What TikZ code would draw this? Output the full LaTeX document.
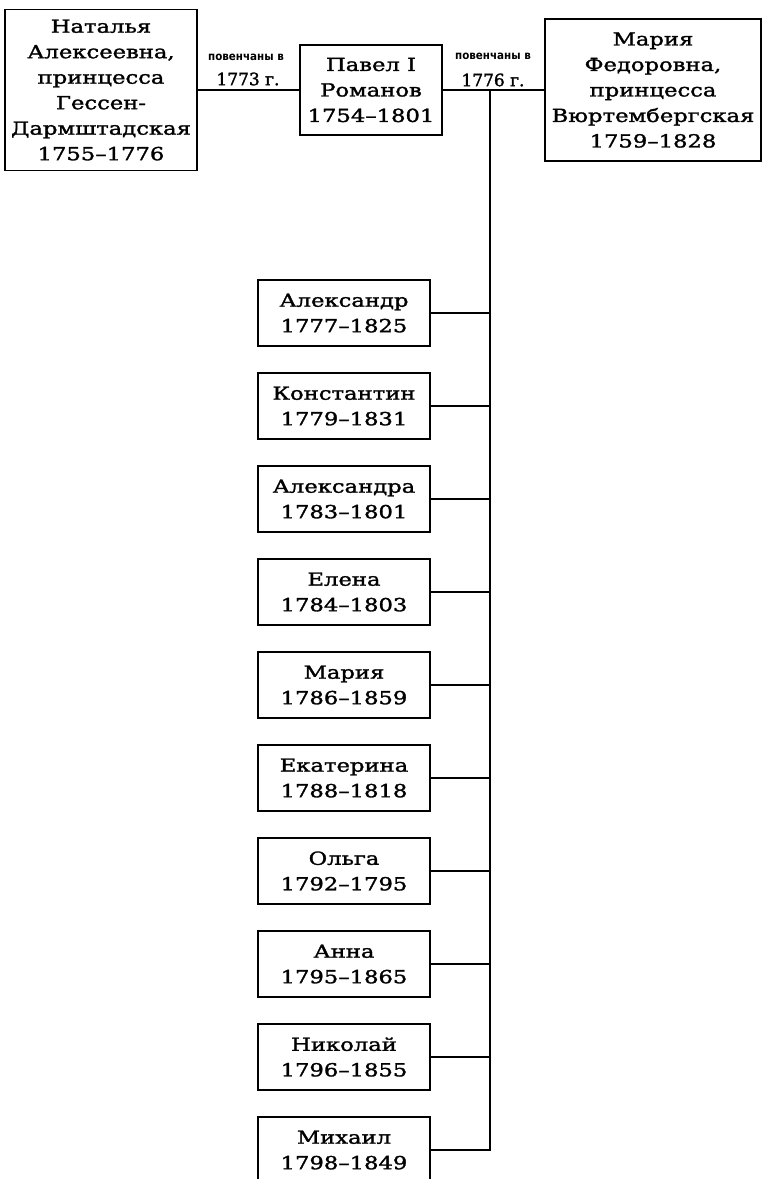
\documentclass[tikz,border=0pt]{standalone}
\usepackage{fontspec}
\setmainfont{DejaVu Serif}[FakeStretch=1.26, FakeBold=1.6]
\newfontfamily\yearfont{DejaVu Serif}[FakeBold=1.6]
\newfontfamily\notefont{DejaVu Sans}[FakeStretch=0.9]
\def\trunkx{490}
\def\kidx{344}

\begin{document}
\begin{tikzpicture}[x=1pt, y=-1pt,
    personbox/.style={draw, line width=1.6pt, align=center, inner sep=0pt,
      font=\fontsize{18}{25.5}\selectfont},
    kidbox/.style={personbox, minimum width=172pt, minimum height=66pt},
    link/.style={line width=1.4pt},
    wedlabel/.style={inner sep=0pt, font=\notefont\bfseries\fontsize{11.5}{13}\selectfont},
    yearlabel/.style={inner sep=0pt, font=\yearfont\fontsize{17}{20}\selectfont}]
  \useasboundingbox (0,0) rectangle (764,1179);

  \node[personbox, minimum width=192pt, minimum height=161pt] (natalia) at (101,90)
    {Наталья\\Алексеевна,\\принцесса\\Гессен-\\Дармштадская\\1755–1776};
  \node[personbox, minimum width=142pt, minimum height=90pt] (pavel) at (371,90)
    {Павел I\\Романов\\1754–1801};
  \node[personbox, minimum width=216pt, minimum height=142pt] (maria) at (653,90)
    {Мария\\Федоровна,\\принцесса\\Вюртембергская\\1759–1828};

  \node[wedlabel] (wedA) at (246,57) {повенчаны в};
  \node[yearlabel] (yearA) at (248,79) {1773 г.};
  \node[wedlabel] (wedB) at (493,56) {повенчаны в};
  \node[yearlabel] (yearB) at (493,80) {1776 г.};

  \node[kidbox] (alexandr) at (\kidx,313) {Александр\\1777–1825};
  \node[kidbox] (konstantin) at (\kidx,406) {Константин\\1779–1831};
  \node[kidbox] (aleksandra) at (\kidx,499) {Александра\\1783–1801};
  \node[kidbox] (elena) at (\kidx,592) {Елена\\1784–1803};
  \node[kidbox] (mariya) at (\kidx,685) {Мария\\1786–1859};
  \node[kidbox] (ekaterina) at (\kidx,778) {Екатерина\\1788–1818};
  \node[kidbox] (olga) at (\kidx,871) {Ольга\\1792–1795};
  \node[kidbox] (anna) at (\kidx,964) {Анна\\1795–1865};
  \node[kidbox] (nikolai) at (\kidx,1057) {Николай\\1796–1855};
  \node[kidbox] (mikhail) at (\kidx,1150) {Михаил\\1798–1849};

  \coordinate (fork) at (\trunkx,90);
  \draw[link] (natalia.east) -- (pavel.west);
  \draw[link] (pavel.east) -- (maria.west);
  \draw[link] (fork) |- (mikhail.east);
  \draw[link] (alexandr.east) -- (alexandr.east -| fork);
  \draw[link] (konstantin.east) -- (konstantin.east -| fork);
  \draw[link] (aleksandra.east) -- (aleksandra.east -| fork);
  \draw[link] (elena.east) -- (elena.east -| fork);
  \draw[link] (mariya.east) -- (mariya.east -| fork);
  \draw[link] (ekaterina.east) -- (ekaterina.east -| fork);
  \draw[link] (olga.east) -- (olga.east -| fork);
  \draw[link] (anna.east) -- (anna.east -| fork);
  \draw[link] (nikolai.east) -- (nikolai.east -| fork);
\end{tikzpicture}
\end{document}
